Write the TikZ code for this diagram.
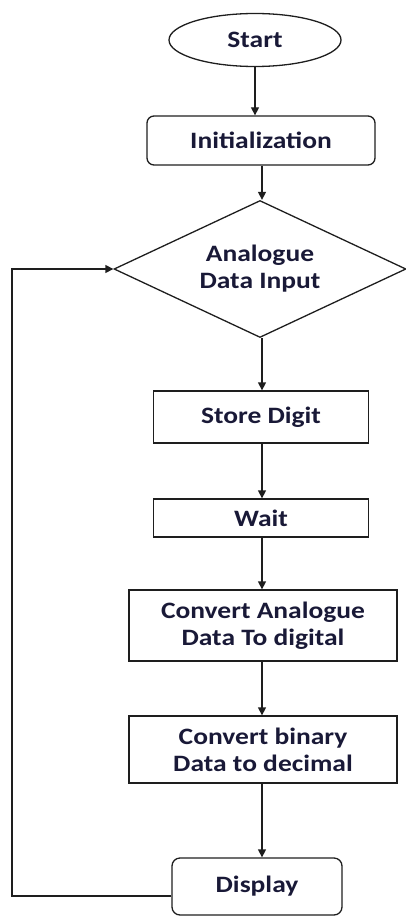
\documentclass[tikz,border=0pt]{standalone}
\usepackage{fontspec}
\newfontfamily\lblfont[FakeStretch=1.17]{Carlito}
\usetikzlibrary{shapes.geometric,arrows.meta}
\definecolor{linec}{RGB}{30,30,30}
\definecolor{textc}{RGB}{25,25,55}
\begin{document}
\begin{tikzpicture}[x=1pt,y=-1pt,
  every node/.style={font=\lblfont\bfseries\fontsize{23.5}{27}\selectfont, text=textc, align=center, inner sep=0pt, draw=linec, line width=1.3pt},
  term/.style={ellipse},
  rbox/.style={rectangle, rounded corners=7pt},
  sbox/.style={rectangle},
  dec/.style={diamond, aspect=2},
  arr/.style={draw=linec, line width=1.3pt, -{Triangle[length=8pt,width=8pt]}}
]
\useasboundingbox (0,0) rectangle (406,917);
\node[term, minimum width=172pt, minimum height=53pt] (start) at (255,40) {Start};
\node[rbox, minimum width=228pt, minimum height=49pt] (init) at (261,140.5) {Initialization};
\node[dec, minimum width=292pt, minimum height=137pt] (dia) at (260,269) {Analogue\\Data Input};
\node[sbox, minimum width=215pt, minimum height=52pt] (store) at (261,417) {Store Digit};
\node[sbox, minimum width=215pt, minimum height=38pt] (wait) at (261,518) {Wait};
\node[sbox, minimum width=268pt, minimum height=71pt] (conv1) at (263,625.5) {Convert Analogue\\Data To digital};
\node[sbox, minimum width=268pt, minimum height=67pt] (conv2) at (263,749.5) {Convert binary\\Data to decimal};
\node[rbox, rounded corners=8pt, minimum width=170pt, minimum height=57pt] (disp) at (257,886.5) {Display};
\coordinate (col) at (262,0);
\coordinate (loopx) at (12,0);
\draw[arr] (start.south) -- (start.south |- init.north);
\draw[arr] (init.south -| col) -- (dia.north -| col);
\draw[arr] (dia.south -| col) -- (store.north -| col);
\draw[arr] (store.south -| col) -- (wait.north -| col);
\draw[arr] (wait.south -| col) -- (conv1.north -| col);
\draw[arr] (conv1.south -| col) -- (conv2.north -| col);
\draw[arr] (conv2.south -| col) -- (disp.north -| col);
\coordinate (lp) at ([yshift=-9.5pt]disp.west);
\draw[arr] (lp) -- (lp -| loopx) |- (dia.west);
\end{tikzpicture}
\end{document}
